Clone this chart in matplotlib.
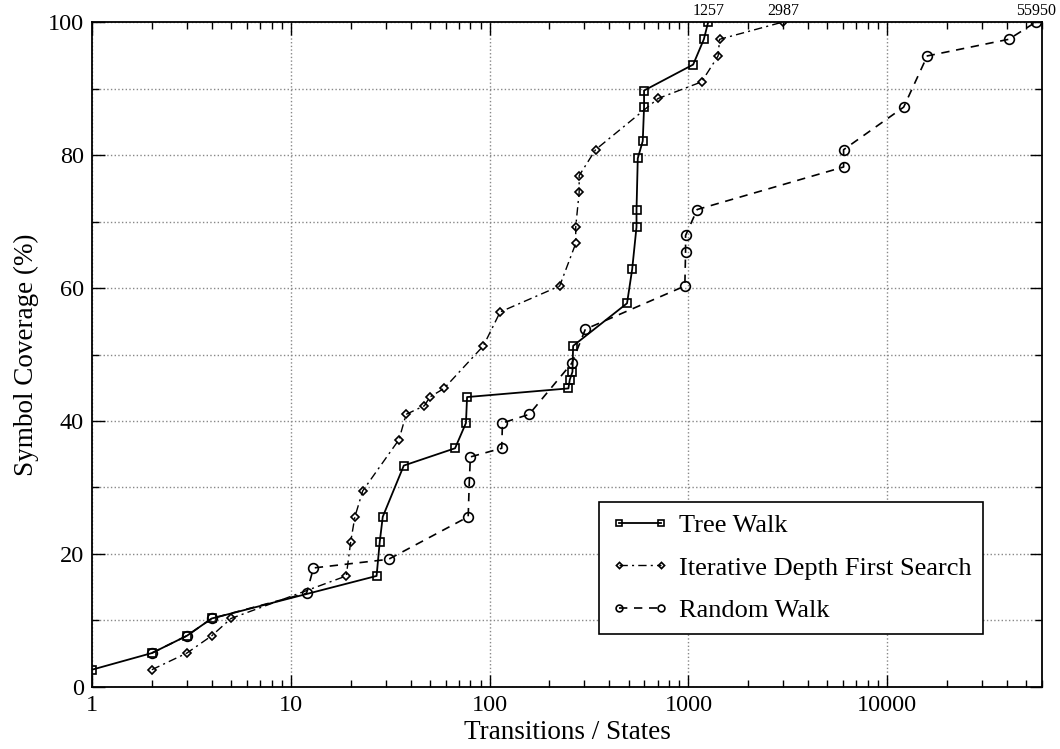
import matplotlib
matplotlib.use("Agg")
import matplotlib.pyplot as plt
from matplotlib.ticker import FixedLocator, LogLocator, NullFormatter

plt.rcParams['font.family'] = ['Liberation Serif', 'DejaVu Serif']
plt.rcParams['mathtext.fontset'] = 'stix'

# ---- data ----
tree_x = [1, 2, 3, 4, 27, 28, 29, 37, 67, 76, 77, 249, 253, 261, 263, 491, 521,
          548, 548, 556, 589, 598, 598, 1056, 1195, 1257]
tree_y = [2.6, 5.1, 7.7, 10.3, 16.7, 21.8, 25.6, 33.3, 35.9, 39.7, 43.6, 44.9,
          46.2, 47.4, 51.3, 57.7, 62.8, 69.2, 71.8, 79.5, 82.1, 87.2, 89.7, 93.6,
          97.4, 100.0]

idfs_x = [2, 3, 4, 5, 19, 20, 21, 23, 35, 38, 47, 50, 59, 93, 113, 225, 271, 271,
          282, 282, 341, 704, 1164, 1410, 1434, 2987]
idfs_y = [2.6, 5.1, 7.7, 10.3, 16.7, 21.8, 25.6, 29.5, 37.2, 41.0, 42.3, 43.6,
          44.9, 51.3, 56.4, 60.3, 66.7, 69.2, 74.4, 76.9, 80.8, 88.5, 91.0, 94.9,
          97.4, 100.0]

rand_x = [2, 3, 4, 12, 13, 31, 78, 79, 80, 115, 116, 158, 259, 303, 959, 967, 967,
          1106, 6030, 6030, 12090, 15890, 40820, 55950]
rand_y = [5.1, 7.7, 10.3, 14.1, 17.9, 19.2, 25.6, 30.8, 34.6, 35.9, 39.7, 41.0,
          48.7, 53.8, 60.3, 65.4, 67.9, 71.8, 78.2, 80.8, 87.2, 94.9, 97.4, 100.0]

series_names = ["Tree Walk", "Iterative Depth First Search", "Random Walk"]
end_labels = ["1257", "2987", "55950"]

x_ticks = [1, 10, 100, 1000, 10000]
x_ticklabels = ["1", "10", "100", "1000", "10000"]
y_ticks = [0, 20, 40, 60, 80, 100]

# ---- figure ----
fig = plt.figure(figsize=(10.6, 7.49), dpi=100)
ax = fig.add_axes([0.0868, 0.0828, 0.8962, 0.8878])

ax.plot(tree_x, tree_y, color='black', linestyle='-', linewidth=1.3,
        marker='s', markersize=6, markerfacecolor='none', markeredgewidth=1.2,
        label=series_names[0])
ax.plot(idfs_x, idfs_y, color='black', linestyle=(0, (6, 3, 1.5, 3)), linewidth=1.0,
        marker='D', markersize=4.5, markerfacecolor='none', markeredgewidth=1.2,
        label=series_names[1])
ax.plot(rand_x, rand_y, color='black', linestyle=(0, (5, 4)), linewidth=1.2,
        marker='o', markersize=7, markerfacecolor='none', markeredgewidth=1.2,
        label=series_names[2])

for xs, ys, lab in [(tree_x, tree_y, end_labels[0]), (idfs_x, idfs_y, end_labels[1]),
                    (rand_x, rand_y, end_labels[2])]:
    ax.annotate(lab, (xs[-1], ys[-1]), xytext=(0, 2.5), textcoords='offset points',
                ha='center', va='bottom', fontsize=11.5, annotation_clip=False)

ax.set_xscale('log')
ax.set_xlim(1, 60000)
ax.set_ylim(0, 100)
ax.xaxis.set_major_locator(FixedLocator(x_ticks))
ax.set_xticklabels(x_ticklabels)
ax.xaxis.set_minor_locator(LogLocator(base=10, subs=range(2, 10)))
ax.xaxis.set_minor_formatter(NullFormatter())
ax.set_yticks(y_ticks)
ax.set_yticks(list(range(10, 100, 20)), minor=True)

ax.tick_params(axis='both', which='both', direction='in', top=True, right=True,
               labelsize=17.5)
ax.tick_params(axis='both', which='major', length=9, width=1, pad=6)
ax.tick_params(axis='both', which='minor', length=5, width=1)

ax.grid(True, which='major', axis='x', linestyle=':', color='#888888', linewidth=1)
ax.grid(True, which='both', axis='y', linestyle=':', color='#888888', linewidth=1)

for s in ax.spines.values():
    s.set_linewidth(1.3)

ax.set_xlabel("Transitions / States", fontsize=19.5, labelpad=3)
ax.set_ylabel("Symbol Coverage (%)", fontsize=19.5, labelpad=6)

leg = ax.legend(loc='lower right', bbox_to_anchor=(0.938, 0.0797), fontsize=19,
                frameon=True, fancybox=False, edgecolor='black', framealpha=1,
                numpoints=2, handlelength=2.2, borderpad=0.45, labelspacing=0.72,
                handletextpad=0.35, borderaxespad=0, markerscale=0.7)
leg.get_frame().set_linewidth(1.2)

fig.savefig("out.png", dpi=100)
